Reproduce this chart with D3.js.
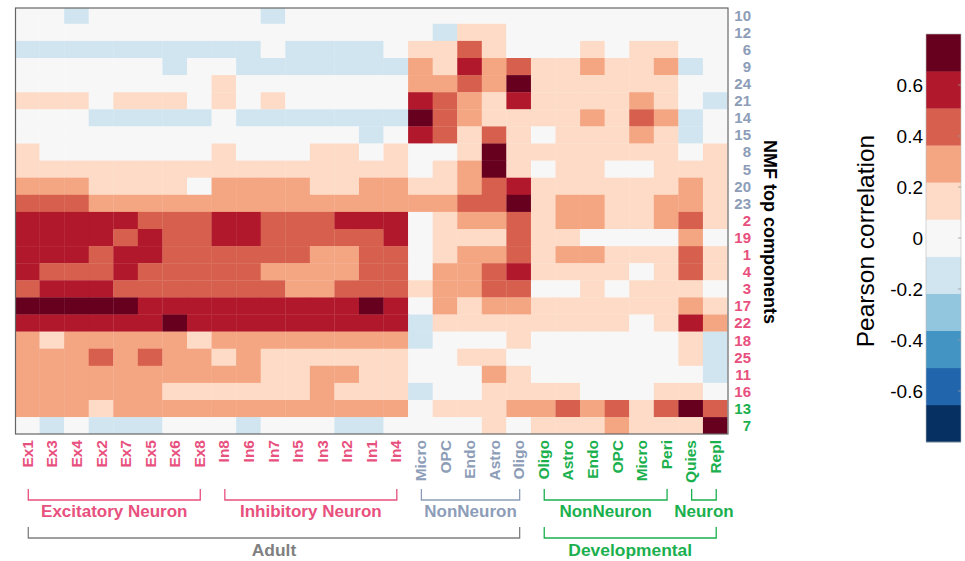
<!DOCTYPE html>
<html>
<head>
<meta charset="utf-8">
<script src="https://cdn.jsdelivr.net/npm/d3@7/dist/d3.min.js"></script>
<style>
  html, body { margin: 0; padding: 0; background: #fff; }
  svg { display: block; font-family: "Liberation Sans", Arial, Helvetica, sans-serif; }
</style>
</head>
<body>
<svg id="chart" width="965" height="561"></svg>
<script>
// ---- Data ----
const columns = ["Ex1","Ex3","Ex4","Ex2","Ex7","Ex5","Ex6","Ex8",
                 "In8","In6","In7","In5","In3","In2","In1","In4",
                 "Micro","OPC","Endo","Astro","Oligo",
                 "Oligo","Astro","Endo","OPC","Micro","Peri","Quies","Repl"];
const columnGroup = ["ex","ex","ex","ex","ex","ex","ex","ex",
                     "in","in","in","in","in","in","in","in",
                     "adultNon","adultNon","adultNon","adultNon","adultNon",
                     "dev","dev","dev","dev","dev","dev","dev","dev"];
const rows = ["10","12","6","9","24","21","14","15","8","5","20","23",
              "2","19","1","4","3","17","22","18","25","11","16","13","7"];
const rowGroup = ["adult","adult","adult","adult","adult","adult","adult","adult","adult","adult","adult","adult",
                  "neuron","neuron","neuron","neuron","neuron","neuron","neuron","neuron","neuron","neuron","neuron",
                  "dev","dev"];
// Pearson correlation, rows x columns
const values = [
 [0,0,-.15,0,0,0,0,0,0,0,-.15,0,0,0,0,0,0,0,0,0,0,0,0,0,0,0,0,0,0],
 [0,0,0,0,0,0,0,0,0,0,0,0,0,0,0,0,0,-.15,.15,.15,0,0,0,0,0,0,0,0,0],
 [-.15,-.15,-.15,-.15,-.15,-.15,-.15,-.15,-.15,-.15,0,-.15,-.15,-.15,-.15,0,.15,.15,.44,.15,0,0,0,.15,0,.15,.15,0,0],
 [0,0,0,0,0,0,-.15,0,0,-.15,-.15,-.15,-.15,-.15,-.15,-.15,.29,.15,.58,.29,.44,.15,.15,.29,.15,.15,.29,-.15,0],
 [0,0,0,0,0,0,0,0,.15,0,0,0,0,0,0,0,.29,.29,.44,.29,.72,.15,.15,.15,.15,.15,.15,0,0],
 [.15,.15,.15,0,.15,.15,.15,0,.15,0,.15,0,0,0,0,0,.58,.44,.29,.15,.58,.15,.15,.15,.15,.29,.15,0,-.15],
 [0,0,0,-.15,-.15,-.15,-.15,-.15,0,-.15,-.15,-.15,-.15,-.15,-.15,-.15,.72,.44,.29,.15,.15,.15,.15,.29,.15,.44,.29,-.15,0],
 [0,0,0,0,0,0,0,0,0,0,0,0,0,0,-.15,0,.58,.44,.15,.44,.15,0,.15,.15,.15,.29,.15,-.15,0],
 [.15,0,0,0,0,0,0,0,.15,0,0,0,.15,.15,0,.15,0,0,.15,.72,.15,.15,.15,.15,.15,.15,.15,0,.15],
 [.15,.15,.15,.15,.15,.15,.15,.15,.15,.15,.15,.15,.15,.15,.15,.15,0,.15,.29,.72,.15,0,.15,.15,0,0,.15,.15,.15],
 [.29,.29,.29,.15,.15,.15,.15,0,.29,.29,.29,.29,.15,.15,.29,.29,.15,.15,.29,.44,.58,.15,.15,.15,.15,.15,.15,.29,.15],
 [.44,.44,.44,.29,.29,.29,.29,.29,.29,.29,.29,.29,.29,.29,.29,.29,.29,.29,.44,.44,.72,.15,.29,.29,.15,.15,.29,.29,.15],
 [.58,.58,.58,.58,.58,.44,.44,.44,.58,.58,.44,.44,.44,.58,.58,.58,0,.15,.29,.29,.44,.15,.29,.29,.15,.15,.29,.44,.15],
 [.58,.58,.58,.58,.44,.58,.44,.44,.58,.58,.44,.44,.44,.44,.44,.58,0,.15,.15,.15,.44,.15,.15,0,0,0,0,.29,0],
 [.58,.58,.58,.44,.58,.58,.44,.44,.44,.44,.44,.44,.29,.29,.44,.44,0,.15,.29,.29,.44,.15,.29,.29,.15,.15,.15,.44,.15],
 [.58,.44,.44,.44,.58,.44,.44,.44,.44,.44,.29,.29,.29,.29,.44,.44,0,.29,.29,.44,.58,.15,.15,.15,.15,0,.15,.44,.15],
 [.44,.58,.58,.58,.44,.44,.44,.44,.44,.44,.44,.29,.29,.44,.44,.44,.15,.29,.29,.44,.44,0,0,.15,0,.15,.15,.15,0],
 [.72,.72,.72,.72,.72,.58,.58,.58,.58,.58,.58,.58,.58,.58,.72,.58,0,.29,.15,.29,.29,.15,.15,.15,.15,.15,.15,.29,.15],
 [.58,.58,.58,.58,.58,.58,.72,.58,.58,.58,.58,.58,.58,.58,.58,.58,-.15,.15,.15,.15,.15,.15,.15,.15,.15,0,.15,.58,.29],
 [.29,.15,.29,.29,.29,.29,.29,.15,.29,.29,.29,.29,.29,.29,.29,.29,-.15,0,0,0,.15,0,0,0,0,0,0,.15,-.15],
 [.29,.29,.29,.44,.29,.44,.29,.29,.15,.29,.15,.15,.15,.15,.15,.15,0,0,.15,.15,0,0,0,0,0,0,0,.15,-.15],
 [.29,.29,.29,.29,.29,.29,.29,.29,.29,.29,.15,.15,.29,.29,.15,.15,0,0,0,.29,.15,0,0,0,0,0,0,0,-.15],
 [.29,.29,.29,.29,.29,.29,.15,.15,.15,.15,.15,.15,.29,.15,.15,.15,-.15,0,0,.15,.15,.15,.15,0,0,0,.15,.15,0],
 [.29,.29,.29,.15,.29,.29,.29,.29,.29,.29,.29,.29,.29,.29,.29,.29,0,.15,.15,.15,.29,.29,.44,.29,.44,.15,.44,.72,.44],
 [0,-.15,0,-.15,-.15,-.15,0,0,0,-.15,0,0,0,-.15,-.15,0,0,0,0,.15,0,.15,.15,.15,.29,.15,.15,.15,.72]
];
const legendTicks = [0.6, 0.4, 0.2, 0, -0.2, -0.4, -0.6];
const legendTickLabels = ["0.6","0.4","0.2","0","-0.2","-0.4","-0.6"];
const palette = ["#053061","#2166ac","#4393c3","#92c5de","#d1e5f0","#f7f7f7",
                 "#fddbc7","#f4a582","#d6604d","#b2182b","#67001f"];
// brackets: [label, first column, last column, level, color key]
const brackets = [
  ["Excitatory Neuron", 0, 7, 1, "ex"],
  ["Inhibitory Neuron", 8, 15, 1, "ex"],
  ["NonNeuron", 16, 20, 1, "adultNon"],
  ["NonNeuron", 21, 26, 1, "dev"],
  ["Neuron", 27, 28, 1, "dev"],
  ["Adult", 0, 20, 2, "adult2"],
  ["Developmental", 21, 28, 2, "dev"]
];

// ---- Styles ----
const colors = { ex: "#e8507e", in: "#e8507e", adultNon: "#8d9db8", dev: "#1bb04e", adult2: "#808080",
                 neuron: "#e8507e", adult: "#8d9db8" };

const svg = d3.select("#chart");

const x = d3.scaleBand().domain(d3.range(columns.length)).range([15, 727.5]).padding(0);
const y = d3.scaleBand().domain(d3.range(rows.length)).range([6.7, 434.2]).padding(0);
const color = d3.scaleQuantize().domain([-0.8, 0.8]).range(palette);

// cells
const cells = [];
values.forEach((row, r) => row.forEach((v, c) => cells.push({ r, c, v })));
const clipId = "hm-clip";
svg.append("clipPath").attr("id", clipId).append("rect")
  .attr("x", 15.5).attr("y", 8).attr("width", 712).attr("height", 426);
svg.append("g").attr("clip-path", `url(#${clipId})`)
  .selectAll("rect").data(cells).join("rect")
  .attr("x", d => x(d.c)).attr("y", d => y(d.r))
  .attr("width", x.bandwidth() + 0.3).attr("height", y.bandwidth() + 0.3)
  .attr("fill", d => color(d.v));

// frame
svg.append("rect").attr("x", 15.5).attr("y", 8).attr("width", 712.5).attr("height", 426)
  .attr("fill", "none").attr("stroke", "#666").attr("stroke-width", 1.2);

// row labels
svg.append("g").selectAll("text").data(rows).join("text")
  .attr("x", 751).attr("y", (d, i) => y(i) + y.bandwidth() / 2)
  .attr("dy", "0.36em").attr("text-anchor", "end")
  .attr("font-size", 15).attr("font-weight", "bold")
  .attr("fill", (d, i) => colors[rowGroup[i]])
  .text(d => d);

// row axis title
svg.append("text").attr("transform", "translate(764,232) rotate(90)")
  .attr("text-anchor", "middle").attr("font-size", 18).attr("font-weight", "bold")
  .attr("fill", "#000").text("NMF top components");

// column labels
svg.append("g").selectAll("text").data(columns).join("text")
  .attr("transform", (d, i) => `translate(${x(i) + x.bandwidth() / 2},440) rotate(-90)`)
  .attr("dy", "0.36em").attr("text-anchor", "end")
  .attr("font-size", 15.5).attr("font-weight", "bold")
  .attr("fill", (d, i) => colors[columnGroup[i]])
  .text(d => d);

// brackets
const bg = svg.append("g");
brackets.forEach(([label, a, b, level, key]) => {
  const x0 = x(a) + x.bandwidth() / 2 + 1, x1 = x(b) + x.bandwidth() / 2 + 1;
  const yt = level === 1 ? 489 : 527, yb = level === 1 ? 500 : 538;
  bg.append("path")
    .attr("d", `M${x0},${yt}V${yb}H${x1}V${yt}`)
    .attr("fill", "none").attr("stroke", colors[key]).attr("stroke-width", 1.3);
  bg.append("text").attr("x", (x0 + x1) / 2).attr("y", level === 1 ? 517 : 556)
    .attr("text-anchor", "middle").attr("font-size", level === 1 ? 17 : 17.4).attr("font-weight", "bold")
    .attr("fill", colors[key]).text(label);
});

// legend
const ly = d3.scaleLinear().domain([-0.8, 0.8]).range([442, 34]);
const lg = svg.append("g");
const step = 1.6 / palette.length;
lg.selectAll("rect").data(palette).join("rect")
  .attr("x", 926).attr("width", 35)
  .attr("y", (d, i) => ly(-0.8 + (i + 1) * step))
  .attr("height", (d, i) => ly(-0.8 + i * step) - ly(-0.8 + (i + 1) * step) + 0.3)
  .attr("fill", d => d);
lg.append("rect").attr("x", 926).attr("y", 34).attr("width", 35).attr("height", 408)
  .attr("fill", "none").attr("stroke", "#bbb").attr("stroke-width", 0.6);
lg.selectAll("line.tick").data(legendTicks).join("line").attr("class", "tick")
  .attr("x1", 958).attr("x2", 961).attr("y1", d => ly(d)).attr("y2", d => ly(d))
  .attr("stroke", "#999").attr("stroke-width", 0.8);
lg.selectAll("text.tl").data(legendTicks).join("text").attr("class", "tl")
  .attr("x", 923).attr("y", d => ly(d)).attr("dy", "0.36em")
  .attr("text-anchor", "end").attr("font-size", 19).attr("fill", "#000")
  .text((d, i) => legendTickLabels[i]);
svg.append("text").attr("transform", "translate(874,241) rotate(-90)")
  .attr("text-anchor", "middle").attr("font-size", 24.5).attr("fill", "#000")
  .text("Pearson correlation");
</script>
</body>
</html>
